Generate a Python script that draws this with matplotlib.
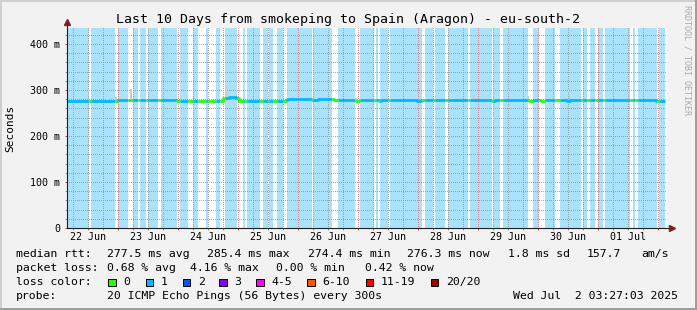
import datetime as dt
import numpy as np
import matplotlib
matplotlib.use("Agg")
import matplotlib.pyplot as plt
import matplotlib.dates as mdates
from matplotlib.ticker import MultipleLocator, FuncFormatter, NullFormatter
from matplotlib.patches import Rectangle
from matplotlib.lines import Line2D

# ---------------- data ----------------
title = "Last 10 Days from smokeping to Spain (Aragon) - eu-south-2"
start_time = dt.datetime(2025, 6, 22, 3, 27, 3)
end_time = dt.datetime(2025, 7, 2, 3, 27, 3)
data_end_hours = 239.2

# periods (hours since start) with NO packet loss (white background, green median)
gap_start = [8.6, 19.2, 24.5, 28.4, 31.4, 36.5, 43.9, 48.5, 52.4, 56.4, 61.2, 68.1,
             71.2, 77.2, 80.3, 82.5, 86.3, 97.9, 105.9, 115.2, 122.9, 124.5, 128.3,
             141.9, 146.5, 151.2, 160.5, 169.9, 173.2, 184.5, 188.9, 195.2, 205.5,
             207.9, 211.2, 214.5, 225.2, 227.2, 235.9]
gap_end = [9.8, 20.3, 26.4, 29.2, 32.2, 37.6, 45.2, 50.3, 55.5, 59.5, 63.2, 70.5,
           72.1, 78.5, 80.9, 84.1, 88.1, 98.5, 108.5, 117.2, 123.6, 125.2, 129.2,
           143.2, 147.2, 152.5, 161.2, 170.5, 174.5, 186.5, 191.2, 197.2, 206.3,
           209.2, 212.5, 215.2, 226.3, 228.3, 236.9]

# median rtt (ms), step breakpoints (hours since start)
median_hours = [0, 5.2, 7.6, 20.4, 44, 49, 52, 56, 59.5, 62.2, 64.8, 67.6, 68.8, 70.4,
                71.6, 81, 83, 86, 88.2, 94.4, 98, 100.4, 106.8, 115.2, 117.2, 124.4,
                125.6, 140, 141.6, 170, 171, 184.8, 186.4, 189.6, 191.2, 200, 201,
                218, 222, 235.6, 237]
median_ms = [276.5, 275.5, 277, 277.5, 277, 276, 277, 275.5, 276.5, 283, 285, 283.5,
             276.5, 275.5, 276.5, 275.5, 276.5, 275.5, 280.5, 279.5, 279, 281, 277.5,
             276.5, 277.5, 275.5, 277.5, 276.5, 277.5, 275.5, 277.5, 276.5, 277.5,
             275.5, 277.5, 276.5, 277.5, 278.5, 277.5, 276.3, 276.3]

# smoke spikes (hours, top in ms)
smoke_hours = [16.0, 19.6, 25.6, 63.6, 115.6, 162.8, 166.8, 184.4]
smoke_top = [281, 284, 303, 309, 282, 290, 283, 287]

loss_labels = ["0", "1", "2", "3", "4-5", "6-10", "11-19", "20/20"]
loss_colors = ["#26ff00", "#00b8ff", "#0059ff", "#7e00ff", "#ff00ff", "#ff5500",
               "#ff0000", "#a00000"]

rtt_items = ["277.5 ms avg", "285.4 ms max", "274.4 ms min", "276.3 ms now",
             "1.8 ms sd", "157.7", "am/s"]
loss_items = ["0.68 % avg", "4.16 % max", "0.00 % min", "0.42 % now"]
probe_text = "20 ICMP Echo Pings (56 Bytes) every 300s"
stamp_text = "Wed Jul  2 03:27:03 2025"

# ---------------- layout ----------------
W, H = 697, 310
MONO = "DejaVu Sans Mono"
BACK = "#f2f2f2"
fig = plt.figure(figsize=(W / 100, H / 100), dpi=100, facecolor=BACK)


def fx(x):
    return x / W


def fy(y):
    return 1 - y / H


ax_l, ax_r, ax_t, ax_b = 67, 667, 28, 228
PW, PH = ax_r - ax_l, ax_b - ax_t
ax = fig.add_axes([fx(ax_l), fy(ax_b), PW / W, PH / H])
ax.set_facecolor("white")


def T(h):
    return start_time + dt.timedelta(hours=h)


ymax = 434.8
ax.set_xlim(start_time, end_time)
ax.set_ylim(0, ymax)

# loss background
light_blue = "#a8e2fc"
prev = 0.0
for s, e in zip(gap_start, gap_end):
    if s > prev:
        ax.axvspan(T(prev), T(s), color=light_blue, lw=0, zorder=0.2)
    prev = e
if prev < data_end_hours:
    ax.axvspan(T(prev), T(data_end_hours), color=light_blue, lw=0, zorder=0.2)

# smoke
for h, top in zip(smoke_hours, smoke_top):
    ax.bar(T(h), top - 274, bottom=274, width=1.0 / 24, color="#cccccc",
           lw=0, zorder=2.5)


def in_gap(h):
    return any(s <= h < e for s, e in zip(gap_start, gap_end))


def med_at(h):
    v = median_ms[0]
    for bh, bv in zip(median_hours, median_ms):
        if bh <= h:
            v = bv
    return v


edges = sorted(set(median_hours + gap_start + gap_end + [0.0, data_end_hours]))
edges = [e for e in edges if 0 <= e <= data_end_hours]
runs = []
for a, b in zip(edges[:-1], edges[1:]):
    c = loss_colors[0] if in_gap((a + b) / 2) else loss_colors[1]
    v = med_at(a)
    if runs and runs[-1][0] == c:
        runs[-1][1].append(a)
        runs[-1][2].append(v)
        runs[-1][3] = b
    else:
        runs.append([c, [a], [v], b])
for c, xs, ys, b in runs:
    xs2 = [T(x) for x in xs] + [T(b)]
    ys2 = ys + [ys[-1]]
    ax.plot(xs2, ys2, drawstyle="steps-post", color=c, lw=2.0, zorder=3,
            solid_capstyle="butt")

# ticks
ax.xaxis.set_major_locator(mdates.DayLocator())
ax.xaxis.set_minor_locator(mdates.HourLocator(byhour=[6, 12, 18]))
ax.xaxis.set_major_formatter(NullFormatter())
ax.yaxis.set_major_locator(MultipleLocator(100))
ax.yaxis.set_minor_locator(MultipleLocator(20))
ax.yaxis.set_major_formatter(FuncFormatter(lambda v, p: "0" if v == 0 else f"{int(v)} m"))

# pixel-exact dotted grid as an overlay image
grid_c = (0.56, 0.56, 0.56, 0.75)
mgrid_c = (0.87, 0.31, 0.31, 0.6)
x0n, x1n = mdates.date2num(start_time), mdates.date2num(end_time)
img = np.zeros((PH, PW, 4))


def row_of(y):
    return int(round((1 - y / ymax) * PH))


def col_of(x):
    return int(round((x - x0n) / (x1n - x0n) * PW))


ymin_minor = [y for y in ax.yaxis.get_minorticklocs() if 0 < y < ymax]
ymaj = [y for y in ax.yaxis.get_majorticklocs() if 0 < y < ymax]
xmin_minor = [x for x in ax.xaxis.get_minorticklocs() if x0n < x < x1n]
xmaj = [x for x in ax.xaxis.get_majorticklocs() if x0n < x < x1n]
for y in ymin_minor:
    r = row_of(y)
    if 0 <= r < PH:
        img[r, 0::2] = grid_c
for x in xmin_minor:
    c = col_of(x)
    if 0 <= c < PW:
        img[0::2, c] = grid_c
for y in ymaj:
    r = row_of(y)
    if 0 <= r < PH:
        img[r, :] = 0
        img[r, 0::2] = mgrid_c
for x in xmaj:
    c = col_of(x)
    if 0 <= c < PW:
        img[:, c] = 0
        img[0::2, c] = mgrid_c
ax.imshow(img, extent=(x0n, x1n, 0, ymax), aspect="auto", interpolation="nearest",
          zorder=0.5)
ax.set_xlim(start_time, end_time)
ax.set_ylim(0, ymax)

ax.tick_params(which="major", direction="out", length=1.5, width=0.72, color="#d04848",
               labelsize=7.2, pad=3.5)
ax.tick_params(which="minor", direction="out", length=1.5, width=0.72, color="#909090")
for lab in ax.get_yticklabels():
    lab.set_fontfamily(MONO)
for s in ax.spines.values():
    s.set_visible(False)

# day labels centered at noon
d = dt.datetime(start_time.year, start_time.month, start_time.day, 12)
while d < end_time:
    if d > start_time:
        ax.text(mdates.date2num(d), -9 / 200, d.strftime("%d %b"),
                transform=ax.get_xaxis_transform(), ha="center", va="center",
                fontsize=7.2, family=MONO)
    d += dt.timedelta(days=1)

# axes lines with arrows
axis_c = (0.12, 0.12, 0.12)
arrow_c = (0.5, 0.12, 0.12)
ax.add_line(Line2D([0, 0], [0, 1 + 4 / 200], transform=ax.transAxes, color=axis_c,
                   lw=0.8, clip_on=False, zorder=5))
ax.add_line(Line2D([0, 1 + 3 / 600], [0, 0], transform=ax.transAxes, color=axis_c,
                   lw=0.8, clip_on=False, zorder=5))
ax.plot([0], [1 + 5.5 / 200], marker="^", ms=4, color=arrow_c, transform=ax.transAxes,
        clip_on=False, zorder=6)
ax.plot([1 + 4.5 / 600], [0], marker=">", ms=4, color=arrow_c, transform=ax.transAxes,
        clip_on=False, zorder=6)

# title, labels
fig.text(0.5, fy(19), title, ha="center", va="center", fontsize=9.5, family=MONO)
fig.text(fx(10), fy(128), "Seconds", rotation=90, ha="center", va="center",
         fontsize=8, family=MONO)
fig.text(fx(687), fy(60), "RRDTOOL / TOBI OETIKER", rotation=-90, ha="center",
         va="center", fontsize=6, family=MONO, color=(0, 0, 0, 0.3))

# legend
LFS = 8.25
fig.text(fx(16), fy(254.3), "median rtt:", fontsize=LFS, family=MONO, va="center")
for x, t in zip([107, 207, 307.5, 407.5, 507.5, 586.7, 641.7], rtt_items):
    fig.text(fx(x), fy(254.3), t, fontsize=LFS, family=MONO, va="center")
fig.text(fx(16), fy(268.3), "packet loss:", fontsize=LFS, family=MONO, va="center")
for x, t in zip([107, 190, 276, 365], loss_items):
    fig.text(fx(x), fy(268.3), t, fontsize=LFS, family=MONO, va="center")
fig.text(fx(16), fy(282.3), "loss color:", fontsize=LFS, family=MONO, va="center")
sq_x = [108.3, 145.7, 182.7, 219.3, 256.3, 307, 365.7, 430.7]
for x, c, t in zip(sq_x, loss_colors, loss_labels):
    fig.add_artist(Rectangle((fx(x), fy(286.3)), 7.5 / W, 7.5 / H, facecolor=c,
                             edgecolor="black", lw=0.7, transform=fig.transFigure))
    fig.text(fx(x + 15), fy(282.3), t, fontsize=LFS, family=MONO, va="center")
fig.text(fx(16), fy(296), "probe:", fontsize=LFS, family=MONO, va="center")
fig.text(fx(107), fy(296), probe_text, fontsize=LFS, family=MONO, va="center")
fig.text(fx(513), fy(296), stamp_text, fontsize=LFS, family=MONO, va="center")

# 3D frame
fig.add_artist(Rectangle((0, fy(2)), 1, 2 / H, facecolor="#cfcfcf", lw=0,
                         transform=fig.transFigure))
fig.add_artist(Rectangle((0, 0), 2 / W, 1, facecolor="#cfcfcf", lw=0,
                         transform=fig.transFigure))
fig.add_artist(Rectangle((0, 0), 1, 2 / H, facecolor="#9e9e9e", lw=0,
                         transform=fig.transFigure))
fig.add_artist(Rectangle((fx(W - 2), 0), 2 / W, 1, facecolor="#9e9e9e", lw=0,
                         transform=fig.transFigure))

fig.savefig("out.png", dpi=100, facecolor=BACK)
